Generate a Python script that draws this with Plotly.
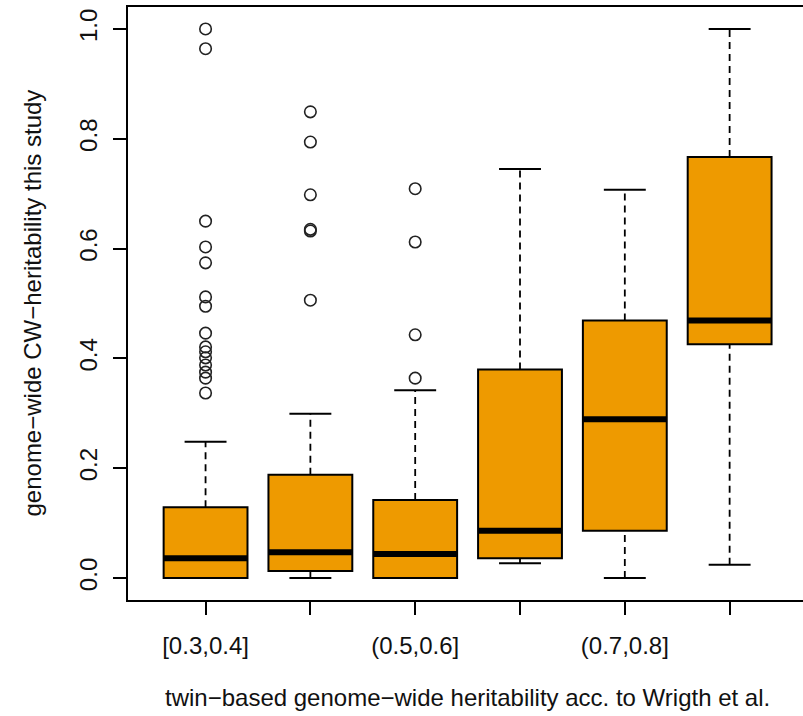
import plotly.graph_objects as go

# Heritability bins (twin-based estimates) and per-bin summary statistics
categories = ["[0.3,0.4]", "(0.4,0.5]", "(0.5,0.6]", "(0.6,0.7]", "(0.7,0.8]", "(0.8,0.9]"]
whisker_low = [0.0, 0.0, 0.0, 0.027, 0.0, 0.024]
q1 = [0.0, 0.013, 0.0, 0.036, 0.086, 0.426]
median = [0.036, 0.047, 0.044, 0.086, 0.289, 0.469]
q3 = [0.129, 0.188, 0.142, 0.380, 0.469, 0.767]
whisker_high = [0.248, 0.299, 0.342, 0.745, 0.707, 1.0]

outliers = [
    [1.0, 0.964, 0.650, 0.603, 0.574, 0.512, 0.495, 0.446, 0.421, 0.412,
     0.401, 0.388, 0.375, 0.364, 0.337],
    [0.849, 0.794, 0.698, 0.635, 0.632, 0.506],
    [0.709, 0.612, 0.443, 0.364],
    [],
    [],
    [],
]

y_ticks = [0.0, 0.2, 0.4, 0.6, 0.8, 1.0]

FILL = "#EE9A00"
FONT = "Liberation Sans, Arial, sans-serif"
BOX_W = 0.8
CAP_W = 0.4

pos = list(range(1, len(categories) + 1))

fig = go.Figure()

# box bodies (whiskers are drawn separately as dashed lines)
fig.add_trace(go.Box(
    x=pos, q1=q1, median=median, q3=q3,
    lowerfence=q1, upperfence=q3,
    width=BOX_W, whiskerwidth=0,
    fillcolor=FILL, line=dict(color="black", width=2),
    boxpoints=False, showlegend=False, hoverinfo="skip",
))

# dashed whiskers
wx, wy = [], []
for p, lo, a, b, hi in zip(pos, whisker_low, q1, q3, whisker_high):
    wx += [p, p, None, p, p, None]
    wy += [lo, a, None, b, hi, None]
fig.add_trace(go.Scatter(
    x=wx, y=wy, mode="lines",
    line=dict(color="black", width=1.8, dash="7px,5px"),
    showlegend=False, hoverinfo="skip",
))

# whisker caps
cx, cy = [], []
for p, lo, hi in zip(pos, whisker_low, whisker_high):
    cx += [p - CAP_W / 2, p + CAP_W / 2, None, p - CAP_W / 2, p + CAP_W / 2, None]
    cy += [lo, lo, None, hi, hi, None]
fig.add_trace(go.Scatter(
    x=cx, y=cy, mode="lines",
    line=dict(color="black", width=2),
    showlegend=False, hoverinfo="skip",
))

# thick median bars
mx, my = [], []
for p, m in zip(pos, median):
    mx += [p - BOX_W / 2, p + BOX_W / 2, None]
    my += [m, m, None]
fig.add_trace(go.Scatter(
    x=mx, y=my, mode="lines",
    line=dict(color="black", width=6),
    showlegend=False, hoverinfo="skip",
))

# outliers
ox, oy = [], []
for p, vals in zip(pos, outliers):
    ox += [p] * len(vals)
    oy += vals
fig.add_trace(go.Scatter(
    x=ox, y=oy, mode="markers",
    marker=dict(symbol="circle-open", size=11.5, color="#222222",
                line=dict(width=1.6, color="#222222")),
    showlegend=False, hoverinfo="skip",
))

# only every other bin label fits under the axis
tick_text = [c if i % 2 == 0 else "" for i, c in enumerate(categories)]

fig.update_layout(
    width=803, height=716,
    margin=dict(l=128, r=0, t=7, b=116),
    paper_bgcolor="white", plot_bgcolor="white",
    font=dict(family=FONT, size=24, color="black"),
    xaxis=dict(
        range=[0.26, 6.70], tickmode="array", tickvals=pos, ticktext=tick_text,
        showline=True, mirror=True, linecolor="black", linewidth=2,
        ticks="outside", ticklen=13, tickwidth=2, tickcolor="black",
        showgrid=False, zeroline=False, ticklabelstandoff=10,
        tickfont=dict(family=FONT, size=24, color="#111111"),
    ),
    yaxis=dict(
        range=[-0.04, 1.04], tickmode="array", tickvals=y_ticks,
        ticktext=[f"{v:.1f}" for v in y_ticks], tickangle=-90,
        showline=True, mirror=False, linecolor="black", linewidth=2,
        ticks="outside", ticklen=13, tickwidth=2, tickcolor="black",
        showgrid=False, zeroline=False, ticklabelstandoff=6,
        tickfont=dict(family=FONT, size=24, color="#111111"),
    ),
    annotations=[
        dict(text="twin\u2212based genome\u2212wide heritability acc. to Wrigth et al.",
             xref="x", yref="paper", x=3.5, y=-0.165, xanchor="center", yanchor="middle",
             showarrow=False, font=dict(family=FONT, size=24, color="#111111")),
        dict(text="genome\u2212wide CW\u2212heritability this study",
             xref="paper", yref="y", x=-0.1422, y=0.5, xanchor="center", yanchor="middle",
             textangle=-90, showarrow=False,
             font=dict(family=FONT, size=24, color="#111111")),
    ],
)

fig.write_html("out.html")
